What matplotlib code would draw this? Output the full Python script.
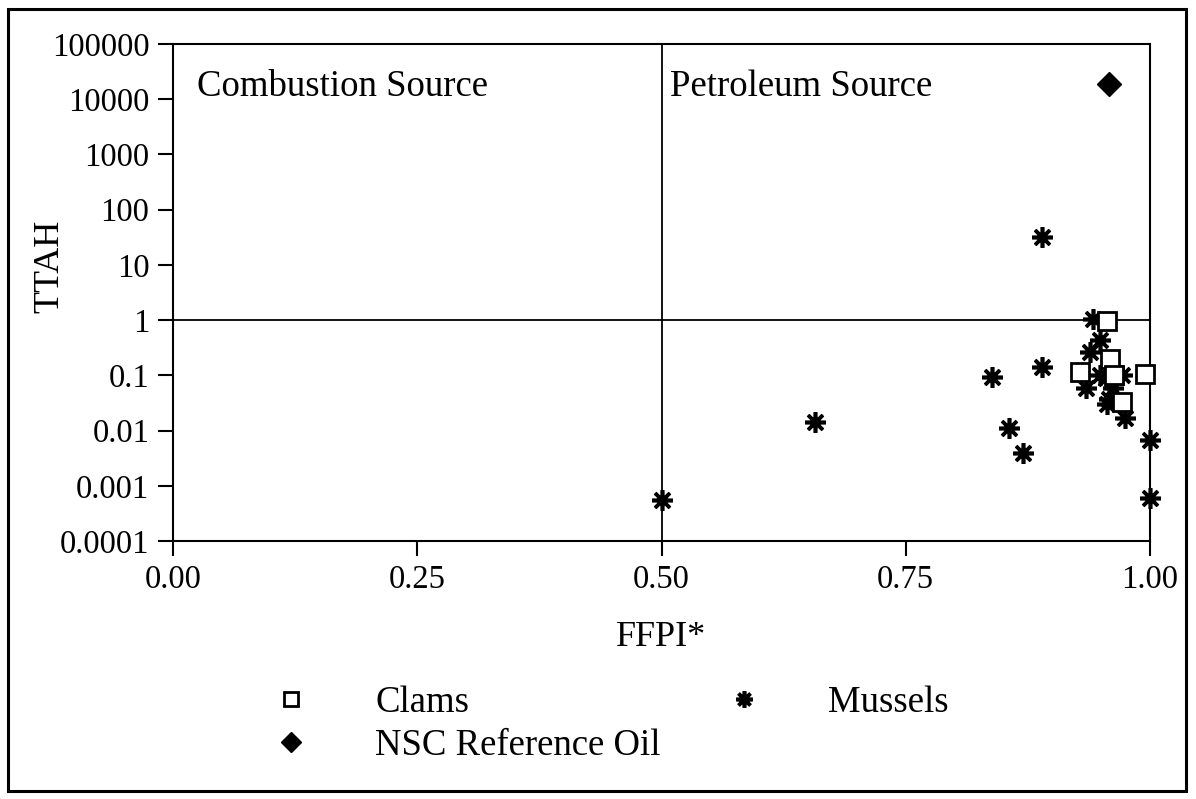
import matplotlib
matplotlib.use('Agg')
import matplotlib.pyplot as plt
from matplotlib.patches import Rectangle

# FFPI* vs TTAH

clams_ffpi = [0.956, 0.959, 0.928, 0.995, 0.963, 0.971]
clams_ttah = [0.95, 0.2, 0.114, 0.105, 0.1, 0.033]

mussels_ffpi = [0.50, 0.657, 0.838, 0.856, 0.870, 0.889, 0.889, 0.942, 0.949,
                0.939, 0.949, 0.971, 0.935, 0.962, 0.956, 0.974, 1.0, 1.0,
                0.955, 0.958]
mussels_ttah = [0.00055, 0.0142, 0.093, 0.011, 0.0039, 32, 0.14, 1.05, 0.43,
                0.26, 0.10, 0.10, 0.058, 0.06, 0.03, 0.017, 0.0067, 0.0006,
                0.09, 0.038]

oil_ffpi = [0.958]
oil_ttah = [19000]

x_ticks = [0.0, 0.25, 0.5, 0.75, 1.0]
x_labels = ['0.00', '0.25', '0.50', '0.75', '1.00']
y_ticks = [1e-4, 1e-3, 1e-2, 1e-1, 1, 10, 100, 1000, 10000, 100000]
y_labels = ['0.0001', '0.001', '0.01', '0.1', '1', '10', '100', '1000',
            '10000', '100000']

plt.rcParams['font.family'] = ['Liberation Serif', 'DejaVu Serif']

fig = plt.figure(figsize=(11.96, 7.99), dpi=100)
ax = fig.add_axes([0.1447, 0.3229, 0.8168, 0.6220])

star = (8, 2, 0)
ax.plot(mussels_ffpi, mussels_ttah, linestyle='none', marker=star,
        markersize=15, markeredgewidth=2.6, color='black', label='Mussels',
        zorder=3, clip_on=False)
ax.plot(clams_ffpi, clams_ttah, linestyle='none', marker='s', markersize=12.5,
        markerfacecolor='white', markeredgecolor='black', markeredgewidth=2,
        label='Clams', zorder=4, clip_on=False)
ax.plot(oil_ffpi, oil_ttah, linestyle='none', marker='D', markersize=12.5,
        color='black', label='NSC Reference Oil', zorder=4)

ax.set_yscale('log')
ax.set_xlim(0, 1)
ax.set_ylim(1e-4, 1e5)

ax.axvline(0.5, color='black', linewidth=1.3, zorder=2)
ax.axhline(1, color='black', linewidth=1.3, zorder=2)

ax.set_xticks(x_ticks)
ax.set_xticklabels(x_labels)
ax.set_yticks(y_ticks)
ax.set_yticklabels(y_labels)
ax.tick_params(axis='both', which='major', direction='out', length=11,
               width=1.5, labelsize=23.5, pad=6)
ax.tick_params(axis='y', which='minor', direction='out', length=4, width=1.2)
ax.tick_params(axis='x', which='minor', bottom=False)
for s in ax.spines.values():
    s.set_linewidth(1.5)

ax.text(0.025, 0.914, 'Combustion Source', transform=ax.transAxes,
        fontsize=26.5, va='center', ha='left')
ax.text(0.509, 0.914, 'Petroleum Source', transform=ax.transAxes,
        fontsize=26.5, va='center', ha='left')

fig.text(50 / 1196, 1 - 266 / 799, 'TTAH', rotation=90, fontsize=26,
         ha='center', va='center')
fig.text(661 / 1196, 1 - 637 / 799, 'FFPI*', fontsize=26, ha='center',
         va='center')

handles, labels = ax.get_legend_handles_labels()
order = [1, 2, 0]
fig.legend([handles[i] for i in order], [labels[i] for i in order],
           loc='upper left', bbox_to_anchor=(263 / 1196, 1 - 685 / 799),
           ncol=2, frameon=False, fontsize=26.5, markerscale=0.8,
           handlelength=1.5, handletextpad=1.55, columnspacing=1.5,
           labelspacing=0.25, borderpad=0, borderaxespad=0)

fig.patches.append(Rectangle((8 / 1196, 8 / 799), 1178 / 1196, 782 / 799,
                             transform=fig.transFigure, fill=False,
                             edgecolor='black', linewidth=2.2))

fig.savefig('out.png', dpi=100)
